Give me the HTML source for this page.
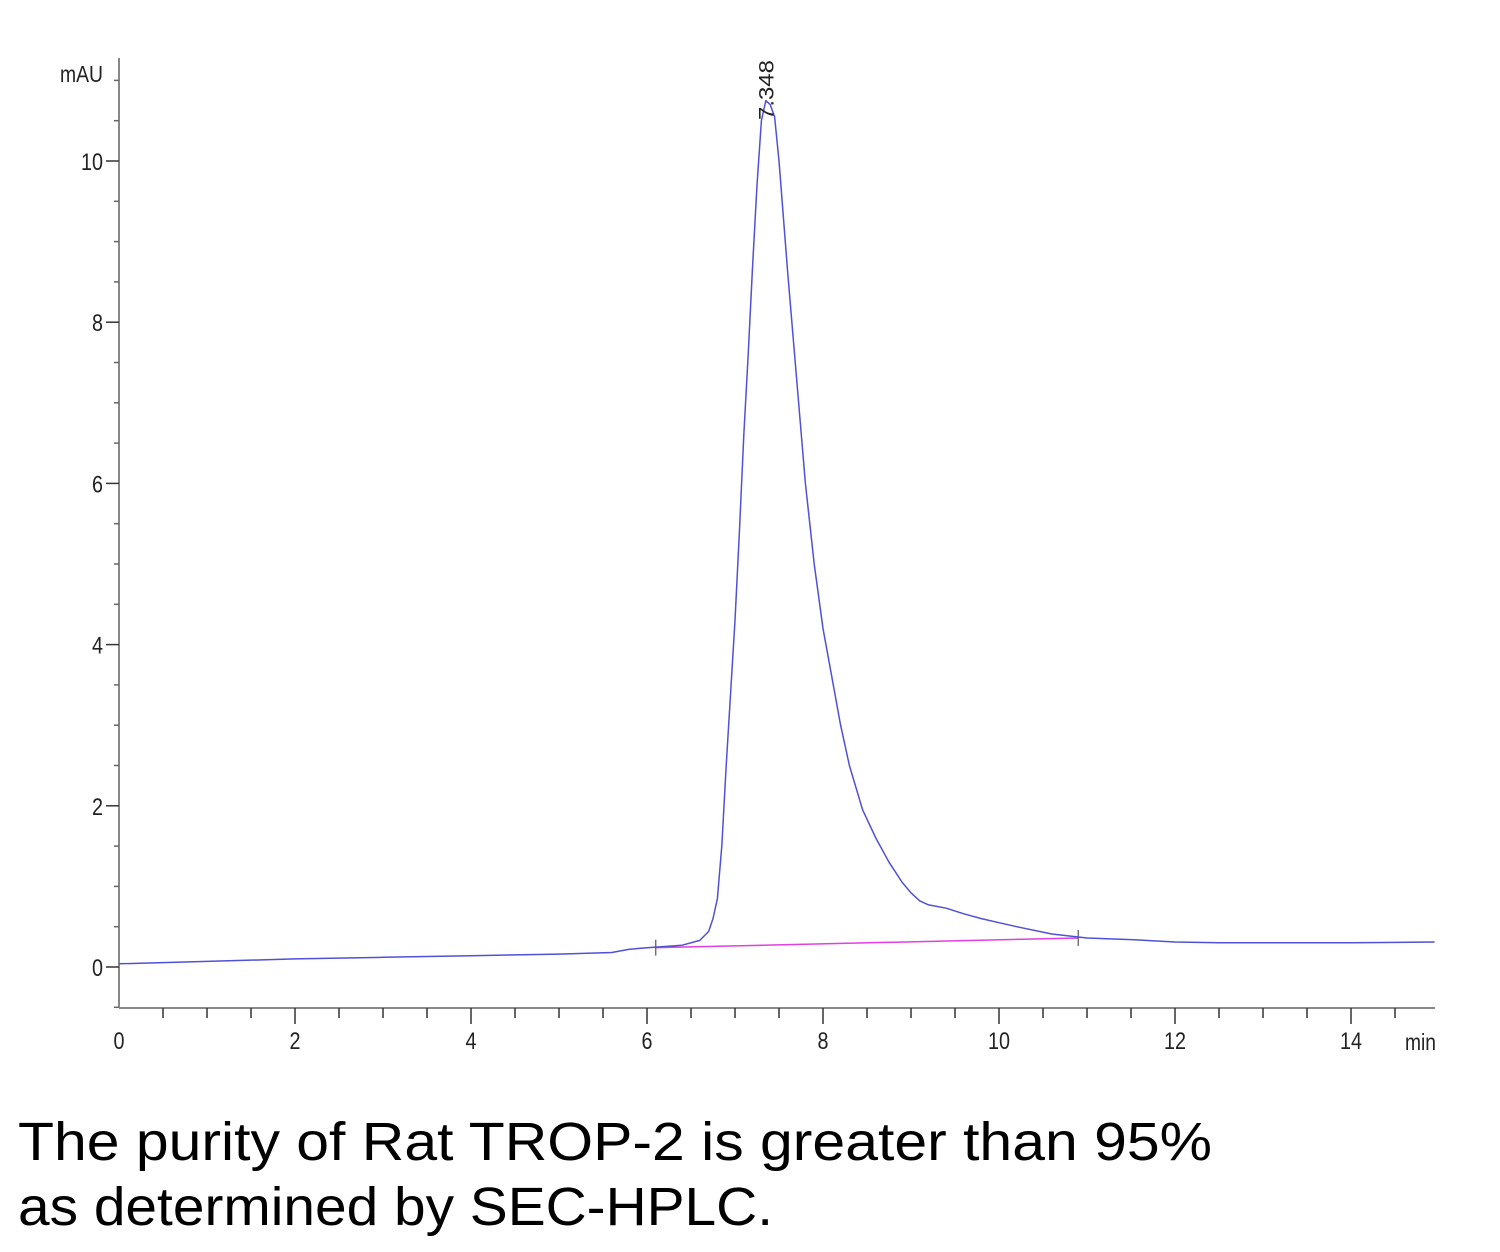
<!DOCTYPE html>
<html><head><meta charset="utf-8"><style>
html,body{margin:0;padding:0;background:#fff;width:1500px;height:1252px;overflow:hidden}
svg{display:block}
</style></head><body>
<svg id="chart" width="1500" height="1252" xmlns="http://www.w3.org/2000/svg" font-family="Liberation Sans, Arial, sans-serif">
<g id="axes"></g>
<g id="marks"></g>
<text x="18" y="1160" font-size="54" textLength="1194" lengthAdjust="spacingAndGlyphs" fill="#000">The purity of Rat TROP-2 is greater than 95%</text>
<text x="18" y="1225" font-size="54" textLength="755" lengthAdjust="spacingAndGlyphs" fill="#000">as determined by SEC-HPLC.</text>
</svg>
<script>
const times = [0,1,2,3,4,5,5.6,5.8,6,6.4,6.6,6.7,6.75,6.8,6.85,6.9,6.95,7.0,7.05,7.1,7.15,7.2,7.25,7.3,7.35,7.4,7.45,7.5,7.6,7.7,7.8,7.9,8.0,8.1,8.2,8.3,8.45,8.6,8.75,8.9,9.0,9.1,9.2,9.4,9.6,9.8,10.0,10.2,10.6,11,11.5,12,12.5,13,14,14.95];
const signal = [0.04,0.07,0.1,0.12,0.14,0.16,0.18,0.22,0.24,0.27,0.33,0.44,0.6,0.85,1.5,2.5,3.4,4.3,5.4,6.6,7.6,8.7,9.7,10.5,10.75,10.7,10.55,10.0,8.6,7.3,6.0,5.0,4.2,3.6,3.0,2.5,1.95,1.6,1.3,1.05,0.92,0.82,0.77,0.73,0.66,0.6,0.55,0.5,0.41,0.36,0.34,0.31,0.3,0.3,0.3,0.31];
const baselineT = [6.1,10.9];
const baselineV = [0.24,0.36];
const peakTime = [7.348];
const peakLabel = ["7.348"];
const xTickLabels = [0,2,4,6,8,10,12,14];
const yTickLabels = [0,2,4,6,8,10];

const NS="http://www.w3.org/2000/svg";
const X0=119, X1=1435, Y0=1008, YT=58;
const xs = t => X0 + t*88;
const ys = v => 967 - v*80.6;
function mk(tag, attrs, parent){const e=document.createElementNS(NS,tag);for(const k in attrs)e.setAttribute(k,attrs[k]);parent.appendChild(e);return e;}
const axes=document.getElementById('axes'), marks=document.getElementById('marks');

let yl=mk('line',{x1:X0,y1:YT,x2:X0,y2:Y0,stroke:'#888','stroke-width':2},axes);


let xl=mk('line',{x1:X0,y1:Y0,x2:X1,y2:Y0,stroke:'#888','stroke-width':2},axes);



for(let v=-0.5; v<=11.01; v+=0.5){
  const major = Math.abs(v%2)<0.01;
  const tk=mk('line',{x1:major?X0-13:X0-5,y1:ys(v),x2:X0,y2:ys(v),stroke:major?'#333':'#666','stroke-width':1.5},axes);
  
  
}
yTickLabels.forEach(v=>{
  const t=mk('text',{x:X0-16,y:ys(v)+9,'text-anchor':'end','font-size':24,fill:'#222',textLength:String(v).length*11,lengthAdjust:'spacingAndGlyphs'},axes);
  t.textContent=v;
  
  
});
const ut=mk('text',{x:60,y:82,'font-size':23,fill:'#222',textLength:43,lengthAdjust:'spacingAndGlyphs'},axes);
ut.textContent='mAU';



for(let t=0.5; t<=14.96; t+=0.5){
  const major = Math.abs(t%2)<0.01;
  const tk=mk('line',{x1:xs(t),y1:Y0,x2:xs(t),y2:major?Y0+16:Y0+10,stroke:'#333','stroke-width':1.5},axes);
  
  
}
xTickLabels.forEach(v=>{
  const t=mk('text',{x:xs(v),y:1049,'text-anchor':'middle','font-size':24,fill:'#222',textLength:String(v).length*11,lengthAdjust:'spacingAndGlyphs'},axes);
  t.textContent=v;
  
  
});
const xu=mk('text',{x:1405,y:1050,'font-size':23,fill:'#222',textLength:31,lengthAdjust:'spacingAndGlyphs'},axes);
xu.textContent='min';



const bl=mk('line',{x1:xs(baselineT[0]),y1:ys(baselineV[0]),x2:xs(baselineT[1]),y2:ys(baselineV[1]),stroke:'#e040e0','stroke-width':1.5},marks);


baselineT.forEach((t,i)=>{
  const m=mk('line',{x1:xs(t),y1:ys(baselineV[i])-8,x2:xs(t),y2:ys(baselineV[i])+8,stroke:'#333','stroke-width':1},marks);
  
  
});
const d=times.map((t,i)=>(i?'L':'M')+xs(t).toFixed(1)+' '+ys(signal[i]).toFixed(1)).join(' ');
const p=mk('path',{d:d,fill:'none',stroke:'#5050d8','stroke-width':1.5,'stroke-linejoin':'round'},marks);



peakTime.forEach((t,i)=>{
  const x=xs(t)+8, y=120;
  const lb=mk('text',{x:x,y:y,'font-size':21,fill:'#222',transform:`rotate(-90 ${x} ${y})`,textLength:60,lengthAdjust:'spacingAndGlyphs'},marks);
  lb.textContent=peakLabel[i];
  
  
});
</script>
</body></html>
